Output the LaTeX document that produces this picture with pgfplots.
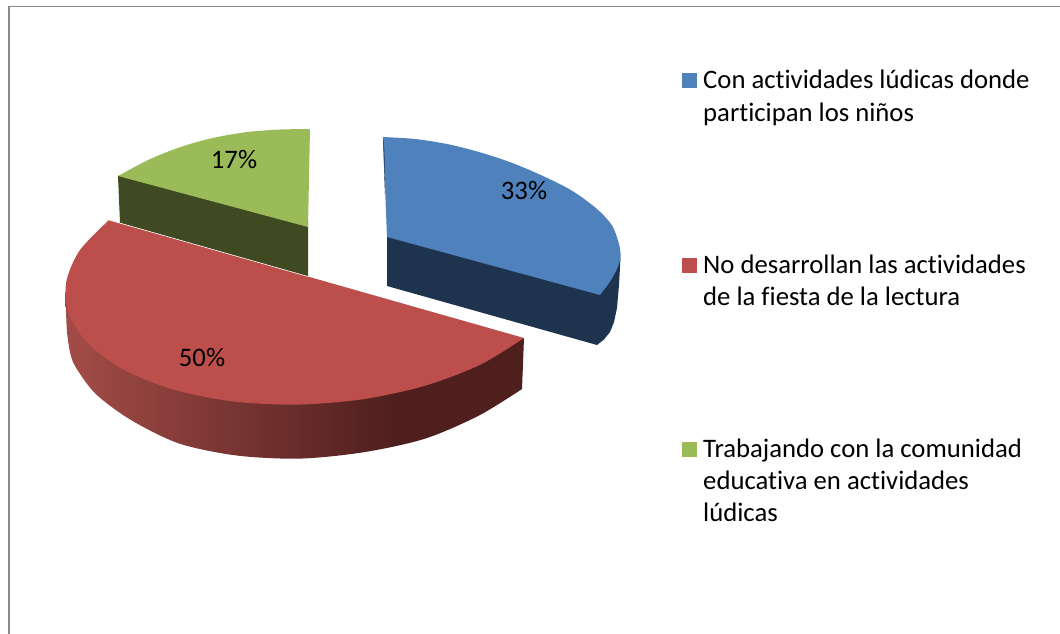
\documentclass[border=0pt]{standalone}
\usepackage{fontspec}
\setmainfont[Ligatures=NoCommon]{Carlito}
\usepackage{pgfplots}
\pgfplotsset{compat=1.18}
\definecolor{blueTop}{HTML}{4F81BD}
\definecolor{blueSide}{HTML}{1E334D}
\definecolor{redTop}{HTML}{BC4F4C}
\definecolor{redDark}{HTML}{4F1F1E}
\definecolor{redLight}{HTML}{A34C47}
\definecolor{greenTop}{HTML}{9BBB59}
\definecolor{greenSide}{HTML}{3F4A22}
\definecolor{frameGray}{HTML}{8C8C8C}
\pgfdeclarehorizontalshading{redside}{100bp}{
  color(0bp)=(redLight); color(25bp)=(redLight); color(61bp)=(redDark); color(100bp)=(redDark)
}
\begin{document}
\begin{tikzpicture}
\useasboundingbox (0,0) rectangle (1060bp,634bp);
\begin{axis}[
  scale only axis, width=1060bp, height=634bp,
  xmin=0, xmax=1060, ymin=0, ymax=634, y dir=reverse,
  hide axis, clip=true,
  every axis plot/.append style={forget plot},
  nodes={font=\fontsize{26.8}{32}\selectfont, inner sep=0pt, text=black},
]
% frame
\addplot[frameGray, line width=1.9bp] coordinates {(9,634) (9,6)};
\addplot[frameGray, line width=1bp] coordinates {(8,6.5) (1060,6.5)};
% green slice, 17%
\addplot[fill=greenSide, draw=none] coordinates {(118,176) (130,175) (308,222) (308,277) (120,223)};
\addplot[fill=greenTop, draw=none, smooth] coordinates {(118,176) (150,159.1) (182,146.5) (214,137.7) (246,132.2) (278,129.6) (310,129)};
\addplot[fill=greenTop, draw=none] coordinates {(118,176) (214,145) (310,129) (308,227)};
% red slice, 50%
\addplot[fill=redDark, draw=none] coordinates {(400,380) (522,389) (524,338)};
\addplot[draw=none, smooth, shading=redside] coordinates {(65,292) (66,312) (67,332) (70,352) (75.6,367) (95.8,394) (131,420) (179.1,443.5) (236.6,455.5) (299.7,458.6) (363.9,452.2) (425.2,438.6) (479,415.5) (522,389)};
\addplot[fill=redTop, draw=none, smooth] coordinates {(109,220) (79.5,250.7) (66,283.4) (69.7,315.8) (90.2,345.6) (126.1,370.9) (175,390) (233.5,401.5) (297.7,404.6) (363.1,399.2) (425.4,385.6) (480.3,364.7) (524,338)};
\addplot[white, line width=0.6bp] coordinates {(109,220) (308,276.5)};
% blue slice, 33%
\addplot[fill=blueSide, draw=none] coordinates {(387,232) (387,286) (597,345) (604,339.5) (610,332) (614,322) (617,308) (619,285) (620.5,258) (600,288)};
\addplot[fill=blueTop, draw=none, smooth] coordinates {(383,137) (415,139) (447,144) (479,152) (511,162.5) (543,176) (572,190.7) (597,209) (612,225.5) (619,244) (620.5,258) (616,271) (609,283) (600,295)};
\addplot[fill=blueTop, draw=none] coordinates {(383,137) (387,237) (600,295) (500,190)};
\addplot[fill=blueSide, draw=none] coordinates {(383,137) (385,195) (384.4,150)};
% data labels
\node[anchor=base] at (axis cs:234,168) {17\%};
\node[anchor=base] at (axis cs:524,199) {33\%};
\node[anchor=base] at (axis cs:202,366) {50\%};
% legend keys
\addplot[fill=blueTop, draw=none] coordinates {(682,73) (697,73) (697,88) (682,88)};
\addplot[fill=redTop, draw=none] coordinates {(682,258) (697,258) (697,273) (682,273)};
\addplot[fill=greenTop, draw=none] coordinates {(682,442) (697,442) (697,457) (682,457)};
% legend text
\node[anchor=base west] at (axis cs:703,89) {Con actividades lúdicas donde};
\node[anchor=base west] at (axis cs:703,121) {participan los niños};
\node[anchor=base west] at (axis cs:703,273) {No desarrollan las actividades};
\node[anchor=base west] at (axis cs:703,305) {de la fiesta de la lectura};
\node[anchor=base west] at (axis cs:703,457) {Trabajando con la comunidad};
\node[anchor=base west] at (axis cs:703,489) {educativa en actividades};
\node[anchor=base west] at (axis cs:703,521) {lúdicas};
\end{axis}
\end{tikzpicture}
\end{document}
